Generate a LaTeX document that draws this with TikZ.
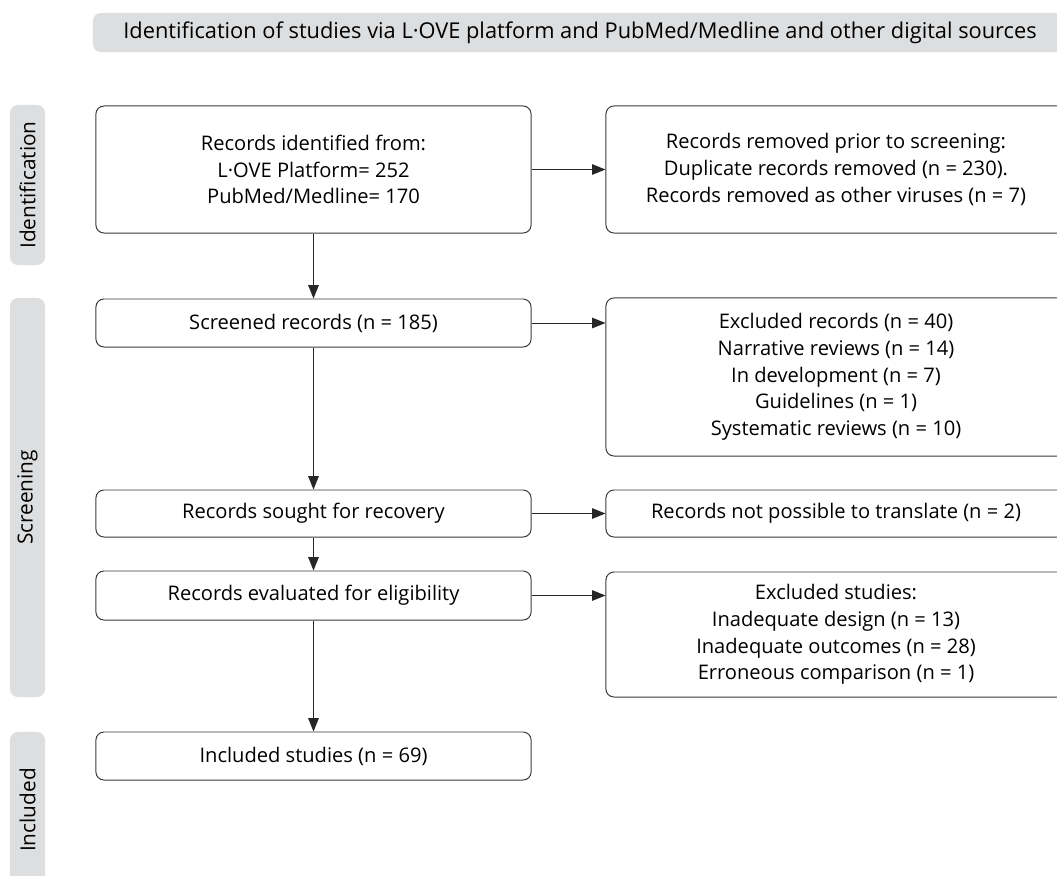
\documentclass[tikz,border=0pt]{standalone}
\usepackage{fontspec}
\setmainfont{Open Sans}
\usetikzlibrary{arrows.meta}
\definecolor{barGray}{HTML}{DDDEE0}
\definecolor{edgeGray}{HTML}{3A3A3A}

\begin{document}
\begin{tikzpicture}[x=0.025cm, y=-0.025cm,
		box/.style={draw=edgeGray, line width=0.7pt, rounded corners=0.2cm, align=center,
			inner sep=0pt, font=\fontsize{14.3}{19}\selectfont},
		leftbox/.style={box, minimum width=10.875cm},
		rightbox/.style={box, minimum width=11.5cm},
		phase/.style={fill=barGray, rounded corners=0.2cm, rotate=90, inner sep=0pt,
			minimum height=0.875cm, font=\fontsize{14.8}{17}\selectfont},
		flow/.style={draw=black!85, line width=0.7pt, -{Triangle[length=9.5pt,width=7.5pt]}}]
		%%%%% START %%%%%
		\clip (0,0) rectangle (1057,875);
		
		% top banner and phase bars
		\node[fill=barGray, rounded corners=0.2cm, minimum width=24.35cm, minimum height=0.975cm,
			inner sep=0pt, font=\fontsize{15.5}{17}\selectfont] (banner) at (580, 32.5)
			{Identification of studies via L·OVE platform and PubMed/Medline and other digital sources};
		\node[phase, minimum width=4cm] (phIdent) at (27.5, 185) {Identification};
		\node[phase, minimum width=9.975cm] (phScreen) at (27.5, 497.5) {Screening};
		\node[phase, minimum width=3.9cm] (phIncl) at (27.5, 810) {Included};
		
		% left column
		\node[leftbox, minimum height=3.175cm] (ident) at (313.5, 169.5)
			{Records identified from:\\L·OVE Platform= 252\\PubMed/Medline= 170};
		\node[leftbox, minimum height=1.2cm] (screened) at (313.5, 323) {Screened records (n = 185)};
		\node[leftbox, minimum height=1.175cm] (sought) at (313.5, 513.5) {Records sought for recovery};
		\node[leftbox, minimum height=1.225cm] (eligible) at (313.5, 595.5) {Records evaluated for eligibility};
		\node[leftbox, minimum height=1.2cm] (included) at (313.5, 756) {Included studies (n = 69)};
		
		% right column
		\node[rightbox, minimum height=3.175cm] (removed) at (836, 169.5)
			{Records removed prior to screening:\\Duplicate records removed (n = 230).\\Records removed as other viruses (n = 7)};
		\node[rightbox, minimum height=3.95cm] (exclRec) at (836, 377)
			{Excluded records (n = 40)\\Narrative reviews (n = 14)\\In development (n = 7)\\Guidelines (n = 1)\\Systematic reviews (n = 10)};
		\node[rightbox, minimum height=1.175cm] (notTrans) at (836, 513.5) {Records not possible to translate (n = 2)};
		\node[rightbox, minimum height=3.125cm] (exclStud) at (836, 634.5)
			{Excluded studies:\\Inadequate design (n = 13)\\Inadequate outcomes (n = 28)\\Erroneous comparison (n = 1)};
		
		% arrows down
		\draw[flow] (ident) -- (screened);
		\draw[flow] (screened) -- (sought);
		\draw[flow] (sought) -- (eligible);
		\draw[flow] (eligible) -- (included);
		
		% arrows across
		\draw[flow] (ident.east) -- (ident.east -| removed.west);
		\draw[flow] (screened.east) -- (screened.east -| exclRec.west);
		\draw[flow] (sought.east) -- (sought.east -| notTrans.west);
		\draw[flow] (eligible.east) -- (eligible.east -| exclStud.west);
		%%%%% END %%%%%
	\end{tikzpicture}
\end{document}
